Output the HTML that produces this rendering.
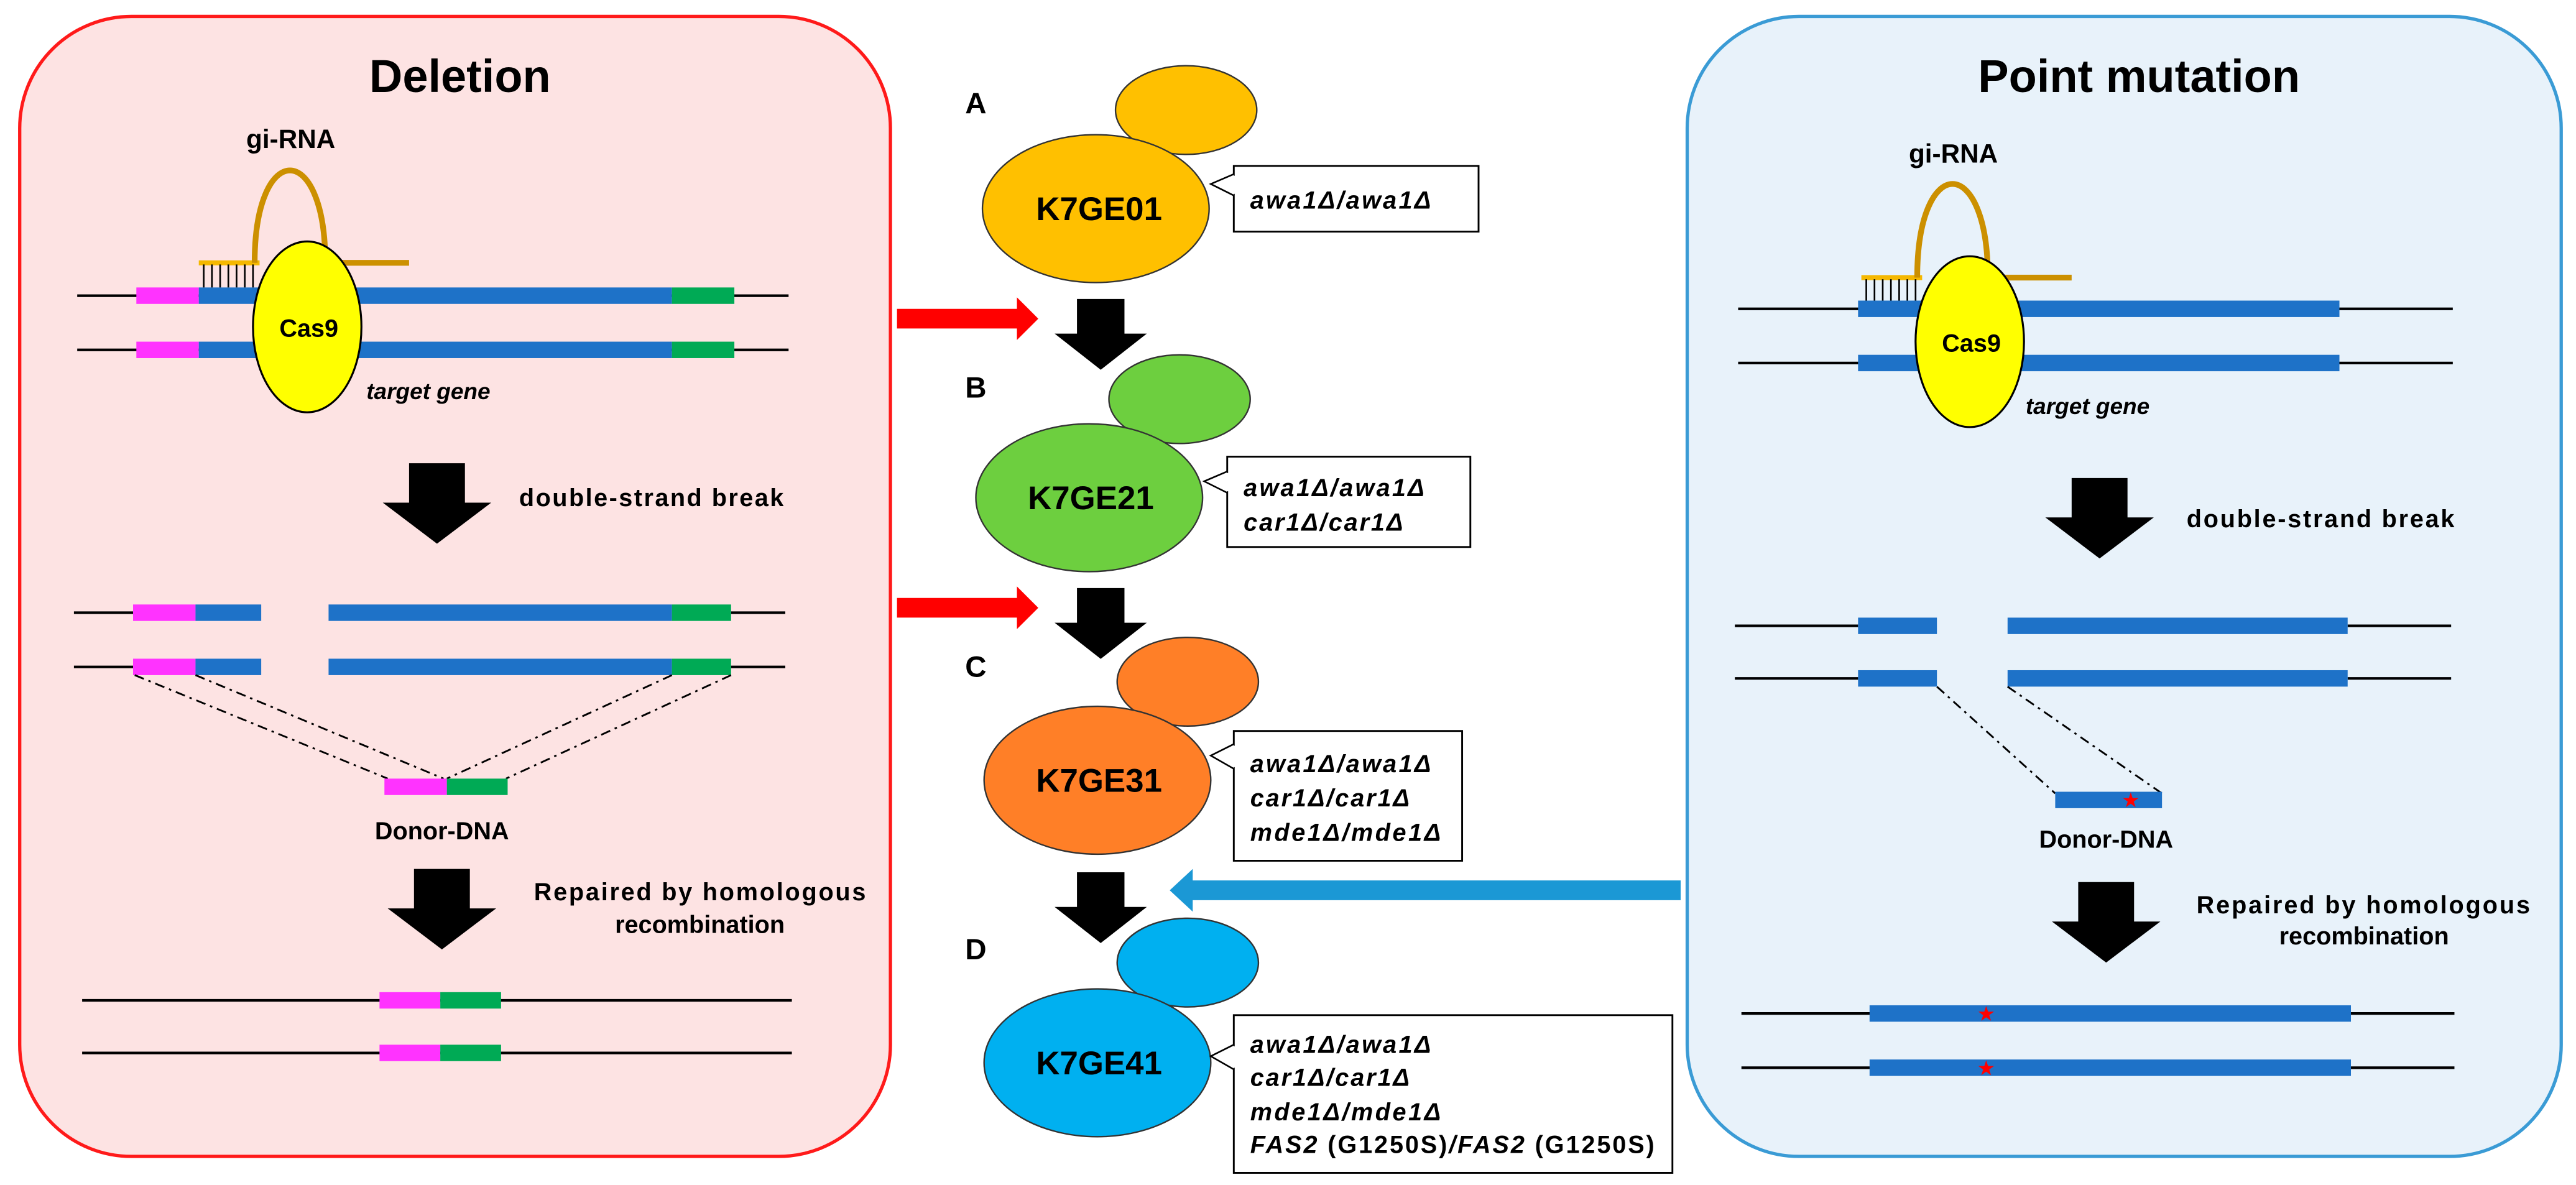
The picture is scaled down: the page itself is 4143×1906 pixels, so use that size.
<!DOCTYPE html>
<html><head><meta charset="utf-8"><style>html,body{margin:0;padding:0;background:#fff}svg{display:block}text{font-family:"Liberation Sans",Arial,sans-serif;font-weight:bold}</style></head><body>
<svg width="4143" height="1906" viewBox="0 0 1568 721.4" preserveAspectRatio="none" xmlns="http://www.w3.org/2000/svg">
<defs>
<g id="arrow"><polygon points="-17,0 17,0 17,24 33,24 0,49 -33,24 -17,24" fill="#000"/></g>
</defs>
<rect width="1568" height="721.4" fill="#fff"/>
<!-- LEFT PANEL -->
<rect x="12" y="10" width="530" height="694" rx="68" fill="#fde3e3" stroke="#ff1a1a" stroke-width="2"/>
<text x="280" y="56" font-size="28" text-anchor="middle">Deletion</text>
<text x="177" y="90" font-size="16" text-anchor="middle">gi-RNA</text>
<line x1="47" y1="180" x2="480" y2="180" stroke="#000" stroke-width="1.6"/>
<line x1="47" y1="213" x2="480" y2="213" stroke="#000" stroke-width="1.6"/>
<rect x="83" y="175" width="38" height="10" fill="#ff33ff"/><rect x="121" y="175" width="288" height="10" fill="#1e72c8"/><rect x="409" y="175" width="38" height="10" fill="#00aa55"/>
<rect x="83" y="208" width="38" height="10" fill="#ff33ff"/><rect x="121" y="208" width="288" height="10" fill="#1e72c8"/><rect x="409" y="208" width="38" height="10" fill="#00aa55"/>
<line x1="121" y1="160" x2="158" y2="160" stroke="#f5b800" stroke-width="3"/>
<g stroke="#000" stroke-width="1"><line x1="124" y1="161" x2="124" y2="175"/><line x1="129" y1="161" x2="129" y2="175"/><line x1="134" y1="161" x2="134" y2="175"/><line x1="139" y1="161" x2="139" y2="175"/><line x1="144" y1="161" x2="144" y2="175"/><line x1="149" y1="161" x2="149" y2="175"/><line x1="154" y1="161" x2="154" y2="175"/></g>
<path d="M155,160 C155,85 198,85 198,160 L249,160" fill="none" stroke="#cc9000" stroke-width="3.5"/>
<ellipse cx="187" cy="199" rx="33" ry="52" fill="#ffff00" stroke="#000" stroke-width="1.2"/>
<text x="188" y="205" font-size="15" text-anchor="middle">Cas9</text>
<text x="223" y="243" font-size="14" font-style="italic">target gene</text>
<use href="#arrow" x="266" y="282"/>
<text x="316" y="308" font-size="15" textLength="161">double-strand break</text>
<line x1="45" y1="373" x2="81" y2="373" stroke="#000" stroke-width="1.6"/><line x1="445" y1="373" x2="478" y2="373" stroke="#000" stroke-width="1.6"/>
<line x1="45" y1="406" x2="81" y2="406" stroke="#000" stroke-width="1.6"/><line x1="445" y1="406" x2="478" y2="406" stroke="#000" stroke-width="1.6"/>
<rect x="81" y="368" width="38" height="10" fill="#ff33ff"/><rect x="119" y="368" width="40" height="10" fill="#1e72c8"/><rect x="200" y="368" width="209" height="10" fill="#1e72c8"/><rect x="409" y="368" width="36" height="10" fill="#00aa55"/>
<rect x="81" y="401" width="38" height="10" fill="#ff33ff"/><rect x="119" y="401" width="40" height="10" fill="#1e72c8"/><rect x="200" y="401" width="209" height="10" fill="#1e72c8"/><rect x="409" y="401" width="36" height="10" fill="#00aa55"/>
<g stroke="#000" stroke-width="1.1" stroke-dasharray="6 3 1.5 3" fill="none"><line x1="82" y1="411" x2="236" y2="474"/><line x1="119" y1="411" x2="270" y2="474"/><line x1="409" y1="411" x2="272" y2="474"/><line x1="445" y1="411" x2="308" y2="474"/></g>
<rect x="234" y="474" width="38" height="10" fill="#ff33ff"/><rect x="272" y="474" width="37" height="10" fill="#00aa55"/>
<text x="269" y="511" font-size="15" text-anchor="middle">Donor-DNA</text>
<use href="#arrow" x="269" y="529"/>
<text x="325" y="548" font-size="15" textLength="202">Repaired by homologous</text>
<text x="426" y="568" font-size="15" text-anchor="middle">recombination</text>
<line x1="50" y1="609" x2="482" y2="609" stroke="#000" stroke-width="1.6"/><line x1="50" y1="641" x2="482" y2="641" stroke="#000" stroke-width="1.6"/>
<rect x="231" y="604" width="37" height="10" fill="#ff33ff"/><rect x="268" y="604" width="37" height="10" fill="#00aa55"/>
<rect x="231" y="636" width="37" height="10" fill="#ff33ff"/><rect x="268" y="636" width="37" height="10" fill="#00aa55"/>
<!-- RIGHT PANEL -->
<rect x="1027" y="10" width="532" height="694" rx="68" fill="#e8f2fa" stroke="#3a9bd5" stroke-width="2"/>
<text x="1302" y="56" font-size="28" text-anchor="middle">Point mutation</text>
<text x="1189" y="99" font-size="16" text-anchor="middle">gi-RNA</text>
<line x1="1058" y1="188" x2="1493" y2="188" stroke="#000" stroke-width="1.6"/><line x1="1058" y1="221" x2="1493" y2="221" stroke="#000" stroke-width="1.6"/>
<rect x="1131" y="183" width="293" height="10" fill="#1e72c8"/><rect x="1131" y="216" width="293" height="10" fill="#1e72c8"/>
<line x1="1133" y1="169" x2="1170" y2="169" stroke="#f5b800" stroke-width="3"/>
<g stroke="#000" stroke-width="1"><line x1="1136" y1="170" x2="1136" y2="183"/><line x1="1141" y1="170" x2="1141" y2="183"/><line x1="1146" y1="170" x2="1146" y2="183"/><line x1="1151" y1="170" x2="1151" y2="183"/><line x1="1156" y1="170" x2="1156" y2="183"/><line x1="1161" y1="170" x2="1161" y2="183"/><line x1="1166" y1="170" x2="1166" y2="183"/></g>
<path d="M1167,169 C1167,93 1210,93 1210,169 L1261,169" fill="none" stroke="#cc9000" stroke-width="3.5"/>
<ellipse cx="1199" cy="208" rx="33" ry="52" fill="#ffff00" stroke="#000" stroke-width="1.2"/>
<text x="1200" y="214" font-size="15" text-anchor="middle">Cas9</text>
<text x="1233" y="252" font-size="14" font-style="italic">target gene</text>
<use href="#arrow" x="1278" y="291"/>
<text x="1331" y="321" font-size="15" textLength="163">double-strand break</text>
<line x1="1056" y1="381" x2="1131" y2="381" stroke="#000" stroke-width="1.6"/><line x1="1429" y1="381" x2="1492" y2="381" stroke="#000" stroke-width="1.6"/>
<line x1="1056" y1="413" x2="1131" y2="413" stroke="#000" stroke-width="1.6"/><line x1="1429" y1="413" x2="1492" y2="413" stroke="#000" stroke-width="1.6"/>
<rect x="1131" y="376" width="48" height="10" fill="#1e72c8"/><rect x="1222" y="376" width="207" height="10" fill="#1e72c8"/>
<rect x="1131" y="408" width="48" height="10" fill="#1e72c8"/><rect x="1222" y="408" width="207" height="10" fill="#1e72c8"/>
<g stroke="#000" stroke-width="1.1" stroke-dasharray="6 3 1.5 3" fill="none"><line x1="1179" y1="418" x2="1251" y2="483"/><line x1="1222" y1="418" x2="1316" y2="483"/></g>
<rect x="1251" y="482" width="65" height="10" fill="#1e72c8"/>
<text x="1297" y="491" font-size="11" fill="#ff0000" text-anchor="middle">★</text>
<text x="1282" y="516" font-size="15" text-anchor="middle">Donor-DNA</text>
<use href="#arrow" x="1282" y="537"/>
<text x="1337" y="556" font-size="15" textLength="203">Repaired by homologous</text>
<text x="1439" y="575" font-size="15" text-anchor="middle">recombination</text>
<line x1="1060" y1="617" x2="1494" y2="617" stroke="#000" stroke-width="1.6"/><line x1="1060" y1="650" x2="1494" y2="650" stroke="#000" stroke-width="1.6"/>
<rect x="1138" y="612" width="293" height="10" fill="#1e72c8"/><rect x="1138" y="645" width="293" height="10" fill="#1e72c8"/>
<text x="1209" y="621" font-size="11" fill="#ff0000" text-anchor="middle">★</text>
<text x="1209" y="654" font-size="11" fill="#ff0000" text-anchor="middle">★</text>
<!-- MIDDLE -->
<polygon points="546,188 619,188 619,181 632,194 619,207 619,200 546,200" fill="#ff0000"/>
<polygon points="546,364 619,364 619,357 632,370 619,383 619,376 546,376" fill="#ff0000"/>
<polygon points="1023,536 726,536 726,529 712,542 726,555 726,548 1023,548" fill="#1b98d5"/>
<g transform="translate(670,182) scale(0.85,0.88)"><use href="#arrow"/></g>
<g transform="translate(670,358) scale(0.85,0.88)"><use href="#arrow"/></g>
<g transform="translate(670,531) scale(0.85,0.88)"><use href="#arrow"/></g>
<text x="594" y="69" font-size="18" text-anchor="middle">A</text>
<text x="594" y="242" font-size="18" text-anchor="middle">B</text>
<text x="594" y="412" font-size="18" text-anchor="middle">C</text>
<text x="594" y="584" font-size="18" text-anchor="middle">D</text>
<g stroke="#333" stroke-width="0.9">
<ellipse cx="722" cy="67" rx="43" ry="27" fill="#ffc000"/><ellipse cx="667" cy="127" rx="69" ry="45" fill="#ffc000"/>
<ellipse cx="718" cy="243" rx="43" ry="27" fill="#6dcf3f"/><ellipse cx="663" cy="303" rx="69" ry="45" fill="#6dcf3f"/>
<ellipse cx="723" cy="415" rx="43" ry="27" fill="#ff7f27"/><ellipse cx="668" cy="475" rx="69" ry="45" fill="#ff7f27"/>
<ellipse cx="723" cy="586" rx="43" ry="27" fill="#00b0f0"/><ellipse cx="668" cy="647" rx="69" ry="45" fill="#00b0f0"/>
</g>
<text x="669" y="134" font-size="20" text-anchor="middle">K7GE01</text>
<text x="664" y="310" font-size="20" text-anchor="middle">K7GE21</text>
<text x="669" y="482" font-size="20" text-anchor="middle">K7GE31</text>
<text x="669" y="654" font-size="20" text-anchor="middle">K7GE41</text>
<g fill="#fff" stroke="#000" stroke-width="1.1">
<rect x="751" y="101" width="149" height="40"/>
<rect x="747" y="278" width="148" height="55"/>
<rect x="751" y="445" width="139" height="79"/>
<rect x="751" y="618" width="267" height="96"/>
</g>
<g fill="#fff" stroke="#000" stroke-width="1">
<polyline points="751,106 737,112 751,119"/>
<polyline points="747,287 733,293 747,300"/>
<polyline points="751,453 737,460 751,468"/>
<polyline points="751,636 737,643 751,651"/>
</g>
<g fill="#fff"><rect x="750" y="107" width="3" height="11"/><rect x="746" y="288" width="3" height="11"/><rect x="750" y="454" width="3" height="13"/><rect x="750" y="637" width="3" height="13"/></g>
<g font-size="15" font-style="italic">
<text x="761" y="127" textLength="110">awa1Δ/awa1Δ</text>
<text x="757" y="302" textLength="110">awa1Δ/awa1Δ</text>
<text x="757" y="323" textLength="97">car1Δ/car1Δ</text>
<text x="761" y="470" textLength="110">awa1Δ/awa1Δ</text>
<text x="761" y="491" textLength="97">car1Δ/car1Δ</text>
<text x="761" y="512" textLength="116">mde1Δ/mde1Δ</text>
<text x="761" y="641" textLength="110">awa1Δ/awa1Δ</text>
<text x="761" y="661" textLength="97">car1Δ/car1Δ</text>
<text x="761" y="682" textLength="116">mde1Δ/mde1Δ</text>
<text x="761" y="702" textLength="246">FAS2 <tspan font-style="normal">(G1250S)</tspan>/FAS2 <tspan font-style="normal">(G1250S)</tspan></text>
</g>
</svg>
</body></html>
